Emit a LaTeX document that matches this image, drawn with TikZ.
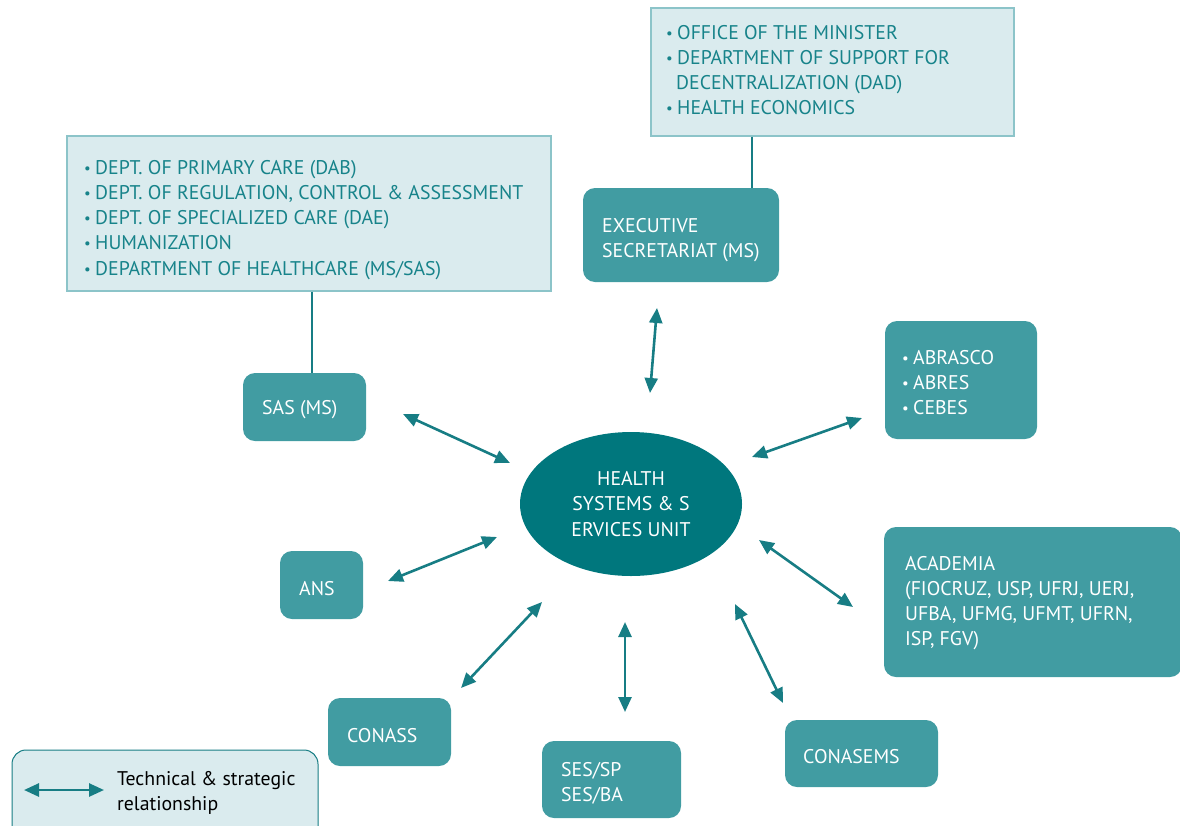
\documentclass[tikz,border=0pt]{standalone}
\usepackage{fontspec}
\setmainfont{PT Sans}
\usetikzlibrary{arrows.meta,shapes.geometric}
\definecolor{darkbox}{HTML}{419CA2}
\definecolor{ellfill}{HTML}{00777D}
\definecolor{lightfill}{HTML}{DAEBEE}
\definecolor{lightborder}{HTML}{8CC4C9}
\definecolor{tealtext}{HTML}{17838A}
\definecolor{arrowcol}{HTML}{177D84}
\newcommand\bul{\makebox[11pt][l]{\raisebox{1pt}{\scalebox{0.75}{•}}}}
\newcommand\mylines[1]{\vtop{\halign{##\hfil\cr#1\crcr}}}
\tikzset{
  listbox/.style={draw=lightborder, line width=1.2pt, fill=lightfill, inner sep=0pt},
  darkbox/.style={fill=darkbox, rounded corners=12pt, inner sep=0pt},
  boxtext/.style={anchor=base west, inner sep=0pt, font=\fontsize{19.8}{25.3}\selectfont},
  rel/.style={draw=arrowcol, line width=2.6pt, {Triangle[length=15pt,width=13pt]}-{Triangle[length=15pt,width=13pt]}},
}
\begin{document}
\begin{tikzpicture}[x=1pt,y=-1pt]
\useasboundingbox (0,0) rectangle (1180,825);
% list boxes
\node[listbox, minimum width=363pt, minimum height=128pt] (execlist) at (832.5,72) {};
\node[boxtext, text=tealtext] (execlisttxt) at (666,39)
 {\mylines{\bul OFFICE OF THE MINISTER\cr\bul DEPARTMENT OF SUPPORT FOR\cr\hspace{10pt}DECENTRALIZATION (DAD)\cr\bul HEALTH ECONOMICS}};
\node[listbox, minimum width=484pt, minimum height=155pt] (saslist) at (309,213.5) {};
\node[boxtext, text=tealtext] (saslisttxt) at (84,174)
 {\mylines{\bul DEPT. OF PRIMARY CARE (DAB)\cr\bul DEPT. OF REGULATION, CONTROL \& ASSESSMENT\cr\bul DEPT. OF SPECIALIZED CARE (DAE)\cr\bul HUMANIZATION\cr\bul DEPARTMENT OF HEALTHCARE (MS/SAS)}};
% dark boxes
\node[darkbox, minimum width=196pt, minimum height=94pt] (exec) at (681,235) {};
\node[boxtext, text=white] (exectxt) at (602,232) {\mylines{EXECUTIVE\cr SECRETARIAT (MS)}};
\node[darkbox, minimum width=123pt, minimum height=68pt] (sas) at (304.5,407) {};
\node[boxtext, text=white] (sastxt) at (262,414) {SAS (MS)};
\node[darkbox, minimum width=152pt, minimum height=118pt] (abrasco) at (961,380) {};
\node[boxtext, text=white] (abrascotxt) at (902,364) {\mylines{\bul ABRASCO\cr\bul ABRES\cr\bul CEBES}};
\node[darkbox, minimum width=298pt, minimum height=150pt] (academia) at (1033,602) {};
\node[boxtext, text=white] (academiatxt) at (905,570) {\mylines{ACADEMIA\cr(FIOCRUZ, USP, UFRJ, UERJ,\cr UFBA, UFMG, UFMT, UFRN,\cr ISP, FGV)}};
\node[darkbox, minimum width=83pt, minimum height=68pt] (ans) at (321.5,585) {};
\node[boxtext, text=white] (anstxt) at (299,595) {ANS};
\node[darkbox, minimum width=123pt, minimum height=68pt] (conass) at (389.5,732) {};
\node[boxtext, text=white] (conasstxt) at (347,742) {CONASS};
\node[darkbox, minimum width=139pt, minimum height=77pt] (ses) at (611.5,779.5) {};
\node[boxtext, text=white] (sestxt) at (561,776) {\mylines{SES/SP\cr SES/BA}};
\node[darkbox, minimum width=153pt, minimum height=67pt] (conasems) at (861.5,753.5) {};
\node[boxtext, text=white] (conasemstxt) at (803,763) {CONASEMS};
% ellipse
\node[ellipse, fill=ellfill, minimum width=222pt, minimum height=144pt, inner sep=0pt, text=white, align=center, font=\fontsize{19.8}{25.3}\selectfont] (unit) at (631,504) {HEALTH\\SYSTEMS \& S\\ERVICES UNIT};
% tree lines
\draw[arrowcol, line width=2.2pt] (execlist.south -| exec.north east) ++(-27,0) coordinate (e1) -- (e1 |- exec.north);
\draw[arrowcol, line width=2.2pt] (saslist.south) ++(3,0) coordinate (s1) -- (s1 |- sas.north);
% relationship arrows
\coordinate (a1) at (657,308); \coordinate (b1) at (650,393);
\coordinate (a2) at (403,414); \coordinate (b2) at (510,463);
\coordinate (a3) at (752,457); \coordinate (b3) at (862,418);
\coordinate (a4) at (388,581); \coordinate (b4) at (497,537);
\coordinate (a5) at (759,540); \coordinate (b5) at (853,607);
\coordinate (a6) at (461,688); \coordinate (b6) at (542,602);
\coordinate (a7) at (625,622); \coordinate (b7) at (625,712);
\coordinate (a8) at (735,604); \coordinate (b8) at (783,703);
\foreach \i in {1,...,8} {\draw[rel] (a\i) -- (b\i);}
% legend
\draw[draw=arrowcol, line width=1pt, fill=lightfill, rounded corners=14pt] (12,750) rectangle (318,845);
\coordinate (l1) at (24,790); \coordinate (l2) at (104,790);
\draw[rel] (l1) -- (l2);
\node[boxtext, text=black] (legtext) at (117,785) {\mylines{Technical \& strategic\cr relationship}};
\end{tikzpicture}
\end{document}
